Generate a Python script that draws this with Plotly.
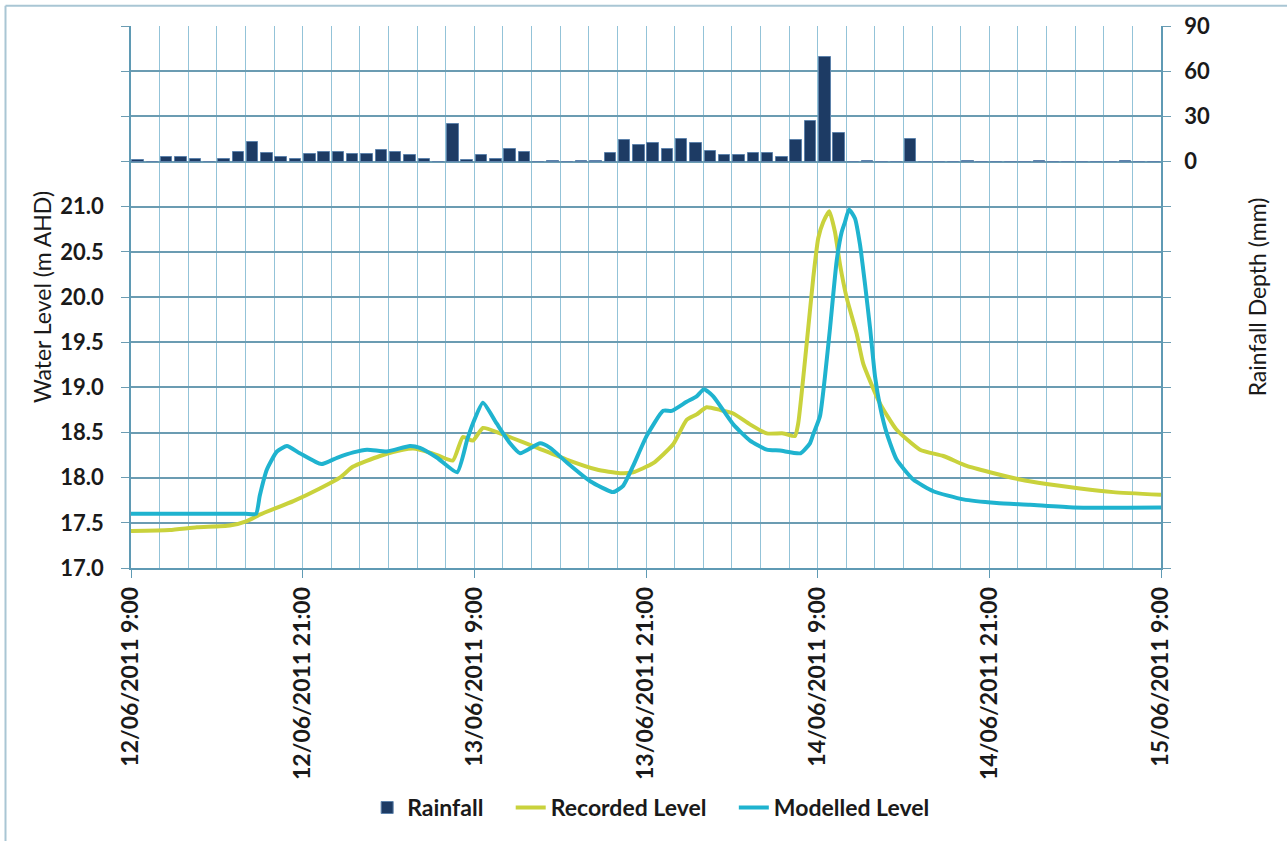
import pandas as pd
import plotly.graph_objects as go

# --- data -----------------------------------------------------------------
START = pd.Timestamp("2011-06-12 09:00")

# hourly rainfall depth (mm), one value per hour from the start time
rainfall_mm = [
    1.0, 0.0, 2.8, 2.8, 1.8, 0.0, 1.8, 6.4, 12.8, 5.4, 3.0, 1.8,
    4.8, 6.4, 6.4, 4.8, 4.8, 7.4, 6.4, 4.0, 1.8, 0.0, 24.6, 1.0,
    4.0, 1.8, 8.0, 6.4, 0.0, 0.2, 0.0, 0.2, 0.2, 5.4, 14.0, 11.2,
    12.4, 8.6, 14.8, 12.4, 7.0, 4.6, 4.6, 5.4, 5.4, 2.8, 14.0, 26.8,
    69.6, 19.2, 0.0, 0.2, 0.0, 0.0, 14.8, 0.0, 0.0, 0.0, 0.2, 0.0,
    0.0, 0.0, 0.0, 0.2, 0.0, 0.0, 0.0, 0.0, 0.0, 0.2, 0.0, 0.0,
]

# recorded water level: hours after start, level (m AHD)
recorded_hours = [
    0.0, 2.7, 4.6, 6.9, 8.1, 9.0, 11.35, 13.2, 14.6, 15.5, 17.4, 19.0,
    19.9, 21.4, 22.5, 23.2, 23.9, 24.6, 25.8, 28.1, 30.45, 32.55, 34.18,
    35.1, 36.5, 37.9, 38.84, 39.54, 40.24, 41.17, 42.1, 43.27, 44.44,
    45.6, 46.41, 46.64, 47.23, 47.69, 48.04, 48.39, 48.81, 49.21, 49.56,
    50.03, 50.73, 51.19, 52.36, 53.52, 55.15, 56.78, 58.42, 60.04, 62.14,
    64.0, 66.34, 68.66, 72.0,
]
recorded_level = [
    17.41, 17.42, 17.45, 17.47, 17.52, 17.59, 17.74, 17.88, 18.00, 18.12,
    18.24, 18.31, 18.32, 18.25, 18.19, 18.45, 18.41, 18.55, 18.49, 18.35,
    18.20, 18.09, 18.05, 18.06, 18.16, 18.37, 18.64, 18.70, 18.78, 18.75,
    18.71, 18.59, 18.49, 18.49, 18.46, 18.60, 19.48, 20.21, 20.65, 20.83,
    20.95, 20.72, 20.36, 19.99, 19.59, 19.26, 18.82, 18.53, 18.31, 18.24,
    18.13, 18.06, 17.98, 17.93, 17.88, 17.84, 17.81,
]

# modelled water level: hours after start, level (m AHD)
modelled_hours = [
    0.0, 4.0, 8.0, 8.74, 9.0, 9.5, 10.2, 10.9, 11.8, 13.3, 14.4, 15.54,
    16.5, 17.9, 19.5, 20.2, 21.4, 22.8, 23.5, 23.9, 24.6, 25.56, 26.5,
    27.2, 28.6, 29.3, 30.45, 32.1, 33.7, 34.4, 35.1, 36.04, 37.2, 37.8,
    38.84, 39.54, 40.05, 40.7, 42.1, 43.27, 44.44, 45.37, 46.8, 47.46,
    47.69, 48.16, 48.51, 48.86, 49.33, 49.68, 49.91, 50.19, 50.61, 50.96,
    51.31, 51.66, 52.01, 52.36, 52.83, 53.52, 54.68, 56.08, 58.18, 60.51,
    62.84, 65.87, 72.0,
]
modelled_level = [
    17.60, 17.60, 17.60, 17.60, 17.80, 18.09, 18.29, 18.35, 18.27, 18.15,
    18.22, 18.28, 18.31, 18.29, 18.35, 18.33, 18.22, 18.06, 18.42, 18.60,
    18.83, 18.60, 18.38, 18.27, 18.38, 18.33, 18.17, 17.96, 17.84, 17.91,
    18.13, 18.46, 18.74, 18.74, 18.84, 18.90, 18.98, 18.90, 18.59, 18.41,
    18.31, 18.30, 18.27, 18.38, 18.48, 18.68, 19.12, 19.65, 20.40, 20.72,
    20.83, 20.97, 20.87, 20.58, 20.14, 19.66, 19.12, 18.79, 18.49, 18.20,
    17.98, 17.85, 17.76, 17.72, 17.70, 17.67, 17.67,
]

tick_labels = [
    "12/06/2011 9:00", "12/06/2011 21:00", "13/06/2011 9:00",
    "13/06/2011 21:00", "14/06/2011 9:00", "14/06/2011 21:00",
    "15/06/2011 9:00",
]

# --- conversions ---------------------------------------------------------
HOUR_MS = 3600 * 1000
rain_times = [START + pd.Timedelta(hours=h + 0.5) for h in range(len(rainfall_mm))]
rec_times = [START + pd.Timedelta(hours=h) for h in recorded_hours]
mod_times = [START + pd.Timedelta(hours=h) for h in modelled_hours]
tick_times = [START + pd.Timedelta(hours=12 * i) for i in range(len(tick_labels))]
END = tick_times[-1]

level_ticks = [17.0 + 0.5 * i for i in range(13)]          # 17.0 .. 23.0
level_text = [f"{v:.1f}" if v <= 21.0 else "" for v in level_ticks]
rain_ticks = list(range(-270, 91, 30))
rain_text = [str(v) if v >= 0 else "" for v in rain_ticks]

FONT = "Lato, 'Open Sans', sans-serif"
TXT = "#1a1a1a"
HGRID = "#6b9cb2"
VGRID = "#93c3d8"
AXIS = "#5f9ab4"
PAD = "\u00a0" * 4   # extra room after each legend entry

# --- figure --------------------------------------------------------------
fig = go.Figure()

fig.add_trace(go.Bar(
    x=rain_times, y=rainfall_mm, name="Rainfall" + PAD, yaxis="y2",
    width=0.8 * HOUR_MS,
    marker=dict(color="#1d3b64", line=dict(color="#5d82ab", width=1)),
))
fig.add_trace(go.Scatter(
    x=rec_times, y=recorded_level, name="Recorded Level" + PAD, mode="lines",
    line=dict(color="#c9d23c", width=4, shape="spline", smoothing=0.5),
))
fig.add_trace(go.Scatter(
    x=mod_times, y=modelled_level, name="Modelled Level", mode="lines",
    line=dict(color="#1fb3cf", width=4, shape="spline", smoothing=0.5),
))

fig.update_layout(
    width=1287, height=841,
    margin=dict(l=131, r=126, t=26, b=268),
    paper_bgcolor="white", plot_bgcolor="white",
    font=dict(family=FONT, color=TXT),
    bargap=0,
    showlegend=True,
    legend=dict(
        orientation="h", x=0.505, xanchor="center", y=-0.442, yanchor="middle",
        font=dict(size=23, weight="bold", color=TXT),
        itemwidth=30, traceorder="normal",
    ),
    xaxis=dict(
        type="date", range=[START, END],
        tickmode="array", tickvals=tick_times, ticktext=tick_labels,
        tickangle=-90, ticks="outside", ticklen=8, tickcolor=AXIS,
        tickfont=dict(size=23, weight="bold", color=TXT),
        showgrid=True, gridcolor=VGRID, gridwidth=1,
        minor=dict(tick0=START, dtick=2 * HOUR_MS, showgrid=True,
                   gridcolor=VGRID, gridwidth=1, ticks=""),
        showline=True, linecolor=AXIS, linewidth=1.5,
        zeroline=False,
    ),
    yaxis=dict(
        range=[17.0, 23.0], tickmode="array",
        tickvals=level_ticks, ticktext=level_text,
        ticks="outside", ticklen=8, tickcolor=HGRID,
        ticklabelstandoff=13,
        tickfont=dict(size=22, weight="bold", color=TXT),
        showgrid=True, gridcolor=HGRID, gridwidth=1.5,
        showline=True, linecolor=AXIS, linewidth=1.5,
        zeroline=False,
        title=dict(text="Water Level (m AHD)", standoff=2,
                   font=dict(size=23, color=TXT)),
    ),
    yaxis2=dict(
        overlaying="y", side="right", range=[-270, 90],
        tickmode="array", tickvals=rain_ticks, ticktext=rain_text,
        ticks="outside", ticklen=8, tickcolor=HGRID,
        ticklabelstandoff=9,
        tickfont=dict(size=22, weight="bold", color=TXT),
        showgrid=False, showline=True, linecolor=AXIS, linewidth=1.5,
        zeroline=False,
        title=dict(text="Rainfall Depth (mm)", standoff=41,
                   font=dict(size=23, color=TXT)),
    ),
)

# outer chart frame (left and top edges)
frame_x = (5.5 - 131) / 1030
frame_y = (573 - 5.5) / 547
fig.add_shape(type="line", xref="paper", yref="paper",
              x0=frame_x, x1=frame_x, y0=frame_y, y1=-0.6,
              line=dict(color="#a9c6d4", width=2))
fig.add_shape(type="line", xref="paper", yref="paper",
              x0=frame_x, x1=1.3, y0=frame_y, y1=frame_y,
              line=dict(color="#a9c6d4", width=2))

fig.write_html("out.html")
